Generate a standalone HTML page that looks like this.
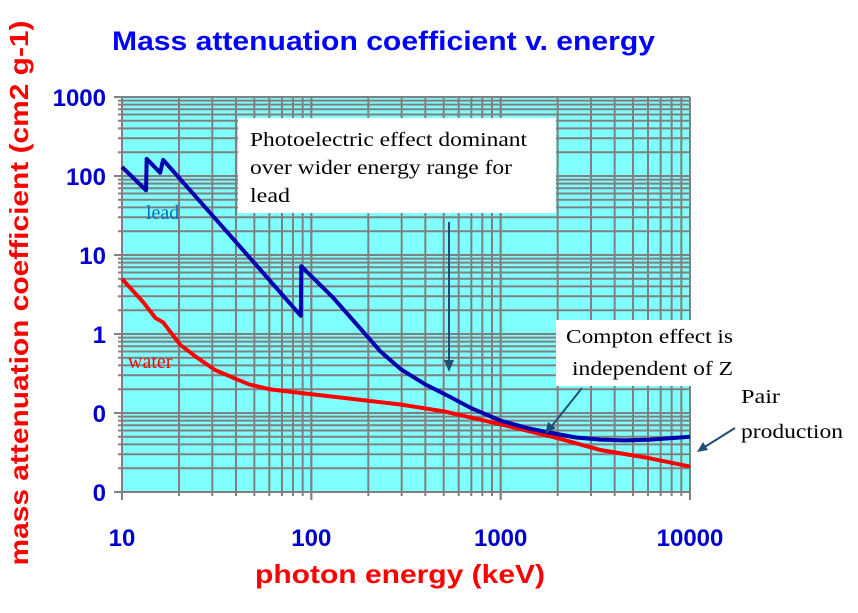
<!DOCTYPE html>
<html><head><meta charset="utf-8"><style>
body{margin:0;background:#fff;width:858px;height:613px;overflow:hidden;font-family:"Liberation Sans",sans-serif}
svg{display:block}
.tk{font:bold 24px "Liberation Sans",sans-serif;fill:#0000cc}
.ser{font:20px "Liberation Serif",serif}
</style></head><body>
<svg width="858" height="613">
<text x="112" y="50" font-size="27" font-weight="bold" fill="#0000ff" textLength="543" lengthAdjust="spacingAndGlyphs">Mass attenuation coefficient v. energy</text>
<rect x="122" y="97" width="568" height="395" fill="#80ffff"/>
<g id="grid"></g>
<g id="ticks"></g>
<g id="series"></g>
<rect x="238" y="118" width="318" height="95" fill="#fff"/>
<text class="ser"><tspan x="250" y="146" textLength="277" lengthAdjust="spacingAndGlyphs">Photoelectric effect dominant</tspan><tspan x="250" y="174" textLength="262" lengthAdjust="spacingAndGlyphs">over wider energy range for</tspan><tspan x="250" y="202" textLength="40" lengthAdjust="spacingAndGlyphs">lead</tspan></text>
<line x1="449" y1="222" x2="449" y2="362" stroke="#1f4e79" stroke-width="2"/>
<polygon points="444,360 454,360 449,372" fill="#1f4e79"/>
<rect x="556" y="320" width="184" height="66" fill="#fff"/>
<text class="ser"><tspan x="566" y="343" textLength="167" lengthAdjust="spacingAndGlyphs">Compton effect is</tspan><tspan x="572" y="375" textLength="161" lengthAdjust="spacingAndGlyphs">independent of Z</tspan></text>
<line x1="582" y1="388" x2="551" y2="427" stroke="#1f4e79" stroke-width="2"/>
<polygon points="545,434 548,422 556,428" fill="#1f4e79"/>
<text class="ser"><tspan x="741" y="403" textLength="39" lengthAdjust="spacingAndGlyphs">Pair</tspan><tspan x="741" y="438" textLength="102" lengthAdjust="spacingAndGlyphs">production</tspan></text>
<line x1="735" y1="428" x2="703" y2="448" stroke="#1f4e79" stroke-width="2"/>
<polygon points="697,452 703,442 708,450" fill="#1f4e79"/>
<text x="146" y="219" class="ser" fill="#0070c0" font-size="23">lead</text>
<text x="128" y="368" class="ser" fill="#ff0000" font-size="23">water</text>
<text x="400" y="583" text-anchor="middle" font-size="26" font-weight="bold" fill="#ff0000" textLength="290" lengthAdjust="spacingAndGlyphs">photon energy (keV)</text>
<text transform="translate(28,293) rotate(-90)" text-anchor="middle" font-size="26" font-weight="bold" fill="#ff0000" textLength="545" lengthAdjust="spacingAndGlyphs">mass attenuation coefficient (cm2 g-1)</text>
</svg>
<script>
const xTicks=[10,100,1000,10000];
const xTickLabels=["10","100","1000","10000"];
const yTicks=[1000,100,10,1,0.1,0.01];
const yTickLabels=["1000","100","10","1","0","0"];
const leadE=[10,13.4,13.5,15.9,16.5,37,88,88.5,130,180,232,296,400,540,700,1000,1400,1840,2500,3370,4500,6200,8000,10000];
const leadMu=[130,66,165,110,160,18,1.7,7.2,2.9,1.2,0.6,0.36,0.23,0.16,0.115,0.08,0.064,0.056,0.049,0.046,0.045,0.046,0.048,0.05];
const waterE=[10,13,15,16.5,20.3,25,31,40,47,60,87,150,295,500,1000,2000,3370,6000,10000];
const waterMu=[5,2.5,1.6,1.4,0.73,0.5,0.35,0.27,0.23,0.2,0.18,0.155,0.128,0.105,0.072,0.048,0.034,0.027,0.021];
const L=122,R=690,T=97,B=492;
const X=v=>L+(Math.log10(v)-1)/3*(R-L);
const Y=v=>B-(Math.log10(v)+2)/5*(B-T);
const NS="http://www.w3.org/2000/svg";
function mk(t,a,p){const e=document.createElementNS(NS,t);for(const k in a)e.setAttribute(k,a[k]);p.appendChild(e);return e;}
const g=document.getElementById('grid'),tk=document.getElementById('ticks'),s=document.getElementById('series');
for(let d=10;d<10000;d*=10)for(let m=1;m<=10;m++){const x=X(d*m);
 const l=mk('line',{x1:x,x2:x,y1:T,y2:B+(m==1||m==10?8:4),stroke:'#808080','stroke-width':2},g);
 
 }
for(let d=0.01;d<999;d*=10)for(let m=1;m<=10;m++){const y=Y(d*m);
 const l=mk('line',{x1:L-(m==1||m==10?8:4),x2:R,y1:y,y2:y,stroke:'#808080','stroke-width':2},g);
 
 }
xTicks.forEach((v,i)=>{const t=mk('text',{x:X(v),y:546,'text-anchor':'middle',class:'tk'},tk);t.textContent=xTickLabels[i];
 
 });
yTicks.forEach((v,i)=>{const t=mk('text',{x:106,y:Y(v)+9,'text-anchor':'end',class:'tk'},tk);t.textContent=yTickLabels[i];
 
 });
function line(E,M,c,n){const p=mk('polyline',{points:E.map((e,i)=>X(e)+','+Y(M[i])).join(' '),fill:'none',stroke:c,'stroke-width':4,'stroke-linejoin':'round'},s);
 
 }
line(waterE,waterMu,'#ff0000','water-line');
line(leadE,leadMu,'#0000b0','lead-line');
</script>
</body></html>
